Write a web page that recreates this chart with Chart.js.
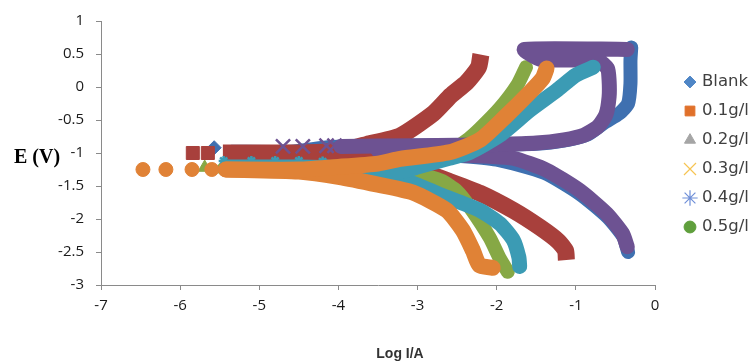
<!DOCTYPE html>
<html>
<head>
<meta charset="utf-8">
<script src="https://cdn.jsdelivr.net/npm/chart.js@4.4.0/dist/chart.umd.min.js"></script>
<style>
  html, body { margin: 0; padding: 0; background: #fff; }
  #wrap { width: 753px; height: 363px; position: relative; }
</style>
</head>
<body>
<div id="wrap"><canvas id="chart"></canvas></div>
<script>
// series, in legend order
const seriesNames = ['Blank', '0.1g/l', '0.2g/l', '0.3g/l', '0.4g/l', '0.5g/l'];

// [log I, E]
const blankTail = [[-5.57, -0.92]];
const blankAnodic = [[-5.35, -0.98], [-4.6, -0.98], [-4.1, -0.91], [-3.5, -0.89], [-2.5, -0.88], [-1.5, -0.86],
  [-1.1, -0.8], [-0.85, -0.72], [-0.65, -0.55], [-0.45, -0.4], [-0.34, -0.25], [-0.31, 0.05], [-0.31, 0.4], [-0.3, 0.6]];
const blankCathodic = [[-3.5, -0.97], [-2.5, -1.04], [-2.0, -1.1], [-1.4, -1.3], [-0.95, -1.62], [-0.6, -1.97],
  [-0.4, -2.27], [-0.34, -2.5]];

const c01Tail = [[-5.84, -1.0], [-5.65, -1.0]];
const c01Anodic = [[-5.46, -1.0], [-4.5, -1.0], [-4.0, -0.97], [-3.64, -0.87], [-3.22, -0.74], [-2.8, -0.4],
  [-2.58, -0.13], [-2.38, 0.07], [-2.23, 0.3], [-2.2, 0.49]];
const c01Cathodic = [[-4.2, -1.01], [-3.6, -1.1], [-3.2, -1.22], [-2.88, -1.31], [-2.6, -1.43], [-2.21, -1.61],
  [-1.79, -1.87], [-1.45, -2.13], [-1.22, -2.34], [-1.13, -2.48], [-1.12, -2.62]];

const c02Tail = [[-5.69, -1.22]];
const c02Anodic = [[-5.45, -1.24], [-4.5, -1.23], [-3.5, -1.17], [-3.0, -1.12], [-2.6, -0.98], [-2.35, -0.78],
  [-2.21, -0.63], [-1.96, -0.32], [-1.74, 0.03], [-1.63, 0.3]];
const c02Cathodic = [[-4.2, -1.26], [-3.5, -1.3], [-2.97, -1.33], [-2.7, -1.42], [-2.5, -1.58], [-2.34, -1.82],
  [-2.09, -2.28], [-1.96, -2.6], [-1.86, -2.8]];

const c03Tail = [[-4.7, -0.9], [-4.45, -0.9], [-4.15, -0.89], [-4.05, -0.89]];
const c03Anodic = [[-3.97, -0.9], [-3.0, -0.89], [-2.0, -0.87], [-1.5, -0.85], [-1.15, -0.8], [-0.9, -0.73],
  [-0.72, -0.6], [-0.62, -0.42], [-0.58, -0.15], [-0.58, 0.1], [-0.6, 0.28], [-0.72, 0.4], [-1.45, 0.42],
  [-1.65, 0.57], [-0.35, 0.57]];
const c03Cathodic = [[-3.5, -0.96], [-2.8, -1.01], [-2.1, -1.05], [-1.79, -1.08], [-1.37, -1.26], [-0.95, -1.57],
  [-0.61, -1.92], [-0.41, -2.22], [-0.35, -2.42]];

const c04Tail = [[-5.45, -1.12], [-5.1, -1.12], [-4.8, -1.12], [-4.5, -1.12], [-4.2, -1.13]];
const c04Anodic = [[-4.2, -1.2], [-3.7, -1.3], [-3.2, -1.28], [-2.97, -1.2], [-2.6, -1.08], [-2.34, -0.99],
  [-1.96, -0.73], [-1.58, -0.35], [-1.24, -0.05], [-1.0, 0.18], [-0.78, 0.3]];
const c04Cathodic = [[-3.7, -1.31], [-3.2, -1.41], [-3.06, -1.46], [-2.63, -1.67], [-2.21, -1.87],
  [-1.96, -2.07], [-1.79, -2.32], [-1.72, -2.58], [-1.71, -2.72]];

const c05Tail = [[-6.47, -1.25], [-6.18, -1.25], [-5.85, -1.25], [-5.6, -1.25]];
const c05Anodic = [[-5.42, -1.25], [-4.5, -1.25], [-4.0, -1.21], [-3.5, -1.16], [-3.22, -1.09], [-2.6, -0.99],
  [-2.21, -0.8], [-1.9, -0.46], [-1.58, -0.08], [-1.42, 0.13], [-1.37, 0.28]];
const c05Cathodic = [[-5.42, -1.25], [-4.5, -1.28], [-4.0, -1.36], [-3.5, -1.48], [-3.06, -1.6], [-2.63, -1.87],
  [-2.43, -2.17], [-2.3, -2.48], [-2.22, -2.7], [-2.05, -2.74]];

const xTicks = [-7, -6, -5, -4, -3, -2, -1, 0];
const yTicks = [1, 0.5, 0, -0.5, -1, -1.5, -2, -2.5, -3];

const tails = [blankTail, c01Tail, c02Tail, c03Tail, c04Tail, c05Tail];
const anodics = [blankAnodic, c01Anodic, c02Anodic, c03Anodic, c04Anodic, c05Anodic];
const cathodics = [blankCathodic, c01Cathodic, c02Cathodic, c03Cathodic, c04Cathodic, c05Cathodic];

// plotted colours, markers and band thickness
const seriesColors = ['#3f70b0', '#a8403c', '#86a845', '#6d5292', '#3b9bb4', '#e08236'];
const pointStyles = ['rectRot', 'rect', 'triangle', 'crossRot', 'star', 'circle'];
const pointSizes = [7, 9.2, 7.5, 10, 9, 7];
const bandWidths = [14, 17, 14, 15, 15, 16];

// the legend keys are drawn in other colours than the plot
const legendColors = ['#4f86c6', '#e0702a', '#a5a5a5', '#f6c453', '#6f8fd8', '#5f9f3c'];

const axisColor = '#8a8a8a';
const tickFont = { family: '"Open Sans", sans-serif', size: 15 };

function toXY(arr) {
  return arr.map(p => ({ x: p[0], y: p[1] }));
}

const datasets = [];
seriesNames.forEach((name, i) => {
  const common = {
    label: name,
    order: seriesNames.length - 1 - i,
    borderColor: seriesColors[i],
    backgroundColor: seriesColors[i],
  };
  [anodics[i], cathodics[i]].forEach(branch => {
    datasets.push({
      ...common,
      data: toXY(branch),
      showLine: true,
      borderWidth: bandWidths[i],
      borderCapStyle: pointStyles[i] === 'rect' ? 'butt' : 'round',
      borderJoinStyle: 'round',
      tension: 0.2,
      pointRadius: 0,
      fill: false,
    });
  });
  const thin = pointStyles[i] === 'star';
  datasets.push({
    ...common,
    data: toXY(tails[i]),
    showLine: thin,
    borderWidth: 3,
    pointStyle: pointStyles[i],
    pointRadius: thin ? 5 : pointSizes[i],
    pointBorderWidth: pointStyles[i] === 'crossRot' || thin ? 2.5 : 1,
    pointBackgroundColor: seriesColors[i],
    pointBorderColor: seriesColors[i],
  });
});

const overlay = {
  id: 'overlay',
  afterDraw(chart) {
    const ctx = chart.ctx;
    ctx.save();
    ctx.fillStyle = '#000';
    ctx.textBaseline = 'alphabetic';

    ctx.font = 'bold 20px "Liberation Serif", serif';
    ctx.textAlign = 'left';
    ctx.fillText('E (V)', 14, chart.scales.y.getPixelForValue(-1) + 10);

    ctx.font = 'bold 14px "Liberation Sans Narrow", "Liberation Sans", sans-serif';
    ctx.fillStyle = '#333';
    ctx.textAlign = 'center';
    ctx.fillText('Log I/A', 400, 358);

    // legend
    ctx.font = '16.5px "DejaVu Sans", sans-serif';
    ctx.textAlign = 'left';
    ctx.textBaseline = 'middle';
    seriesNames.forEach((name, i) => {
      const y = 82 + i * 29;
      ctx.fillStyle = legendColors[i];
      ctx.strokeStyle = legendColors[i];
      ctx.lineWidth = pointStyles[i] === 'crossRot' || pointStyles[i] === 'star' ? 1.2 : 1;
      Chart.helpers.drawPoint(ctx, {
        pointStyle: pointStyles[i],
        radius: pointSizes[i] * (i === 1 ? 0.75 : 0.85),
        rotation: 0,
        borderWidth: ctx.lineWidth,
      }, 690, y);
      ctx.fillStyle = '#404040';
      ctx.fillText(name, 702, y);
    });
    ctx.restore();
  }
};

const chart = new Chart(document.getElementById('chart'), {
  type: 'scatter',
  data: { datasets },
  options: {
    responsive: true,
    maintainAspectRatio: false,
    animation: false,
    devicePixelRatio: 1,
    layout: { padding: { top: 21, right: 98, left: 0, bottom: 0 } },
    plugins: {
      legend: { display: false },
      tooltip: { enabled: false },
    },
    scales: {
      x: {
        type: 'linear',
        min: -7,
        max: 0,
        afterBuildTicks: s => { s.ticks = xTicks.map(v => ({ value: v })); },
        afterFit: s => { s.height = 78; },
        ticks: { font: tickFont, color: '#1a1a1a', padding: 7, maxRotation: 0, autoSkip: false },
        grid: { display: true, drawOnChartArea: false, drawTicks: true, tickLength: 5, color: axisColor },
        border: { display: true, color: axisColor, width: 1 },
      },
      y: {
        type: 'linear',
        min: -3,
        max: 1,
        afterBuildTicks: s => { s.ticks = yTicks.map(v => ({ value: v })); },
        afterFit: s => { s.width = 101; },
        ticks: { font: tickFont, color: '#1a1a1a', padding: 12, autoSkip: false, callback: v => String(v) },
        grid: { display: true, drawOnChartArea: false, drawTicks: true, tickLength: 5, color: axisColor },
        border: { display: true, color: axisColor, width: 1 },
      },
    },
  },
  plugins: [overlay],
});
</script>
</body>
</html>
